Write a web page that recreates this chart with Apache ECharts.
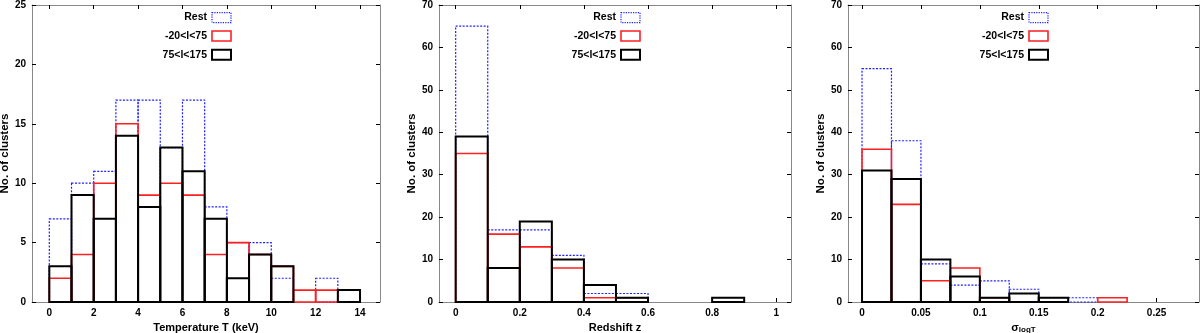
<!DOCTYPE html>
<html>
<head>
<meta charset="utf-8">
<title>cluster histograms</title>
<script src="https://cdn.jsdelivr.net/npm/echarts@6/dist/echarts.min.js"></script>
<style>body{margin:0;background:#fff;}</style>
</head>
<body>
<div id="main" style="width:1200px;height:333px;"></div>
<script>
// bin lower edges and counts
var tempBins = [0, 1, 2, 3, 4, 5, 6, 7, 8, 9, 10, 11, 12, 13];
var tempRest = [7, 10, 11, 17, 17, 13, 17, 8, 5, 5, 2, 0, 2, 0];
var tempInner = [2, 4, 10, 15, 9, 10, 9, 4, 5, 4, 3, 1, 1, 0];
var tempOuter = [3, 9, 7, 14, 8, 13, 11, 7, 2, 4, 3, 0, 0, 1];

var zBins = [0, 0.1, 0.2, 0.3, 0.4, 0.5, 0.6, 0.7, 0.8, 0.9];
var zRest = [65, 17, 17, 11, 2, 2, 0, 0, 0, 0];
var zInner = [35, 16, 13, 8, 1, 1, 0, 0, 0, 0];
var zOuter = [39, 8, 19, 10, 4, 1, 0, 0, 1, 0];

var sBins = [0, 0.025, 0.05, 0.075, 0.1, 0.125, 0.15, 0.175, 0.2];
var sRest = [55, 38, 9, 4, 5, 3, 1, 1, 0];
var sInner = [36, 23, 5, 8, 1, 0, 0, 0, 1];
var sOuter = [31, 29, 10, 6, 1, 2, 1, 0, 0];

var tempTicks = [0, 2, 4, 6, 8, 10, 12, 14];
var zTicks = [0, 0.2, 0.4, 0.6, 0.8, 1];
var sTicks = [0, 0.05, 0.1, 0.15, 0.2, 0.25];

var names = ['Rest', '-20<l<75', '75<l<175'];

var styles = {
    'Rest': {stroke: '#2020ff', lineWidth: 1.2, lineDash: [2, 1.5]},
    '-20<l<75': {stroke: '#ff2020', lineWidth: 1.6, lineDash: null},
    '75<l<175': {stroke: '#000', lineWidth: 2, lineDash: null}
};

var font = 'Liberation Sans';
var frame = '#888';

function toBoxes(bins, counts, width) {
    var res = [];
    for (var i = 0; i < bins.length; i++) {
        if (counts[i] > 0) res.push([bins[i], bins[i] + width, counts[i]]);
    }
    return res;
}

function boxSeries(name, idx, data) {
    var st = styles[name];
    return {
        name: name,
        type: 'custom',
        xAxisIndex: idx * 2,
        yAxisIndex: idx * 2,
        data: data,
        encode: {x: [0, 1], y: 2},
        itemStyle: {color: st.stroke},
        renderItem: function (params, api) {
            var lo = api.coord([api.value(0), 0]);
            var hi = api.coord([api.value(1), api.value(2)]);
            return {
                type: 'rect',
                shape: {x: lo[0], y: hi[1], width: hi[0] - lo[0], height: lo[1] - hi[1]},
                style: {fill: 'none', stroke: st.stroke, lineWidth: st.lineWidth, lineDash: st.lineDash}
            };
        }
    };
}

var grids = [
    {left: 32, top: 5, width: 348, bottom: 31, outerBoundsMode: 'none'},
    {left: 439, top: 5, width: 352, bottom: 31, outerBoundsMode: 'none'},
    {left: 848, top: 5, width: 351, bottom: 31, outerBoundsMode: 'none'}
];

var xr = [[-0.78, 14.9, tempTicks], [-0.052, 1.046, zTicks], [-0.0119, 0.286, sTicks]];
var yMax = [25, 70, 70];
var yStep = [5, 10, 10];
var xNames = ['Temperature T (keV)', 'Redshift z', '{s|σ}{b|logT}'];
var xNameGap = [13, 13, 11];

var xAxes = [], yAxes = [];
for (var g = 0; g < 3; g++) {
    var ticks = xr[g][2];
    xAxes.push({
        type: 'value', gridIndex: g, min: xr[g][0], max: xr[g][1], position: 'bottom',
        name: xNames[g], nameLocation: 'middle', nameGap: xNameGap[g],
        nameTextStyle: {fontFamily: font, fontWeight: 'bold', fontSize: 11, color: '#000',
            rich: {s: {fontFamily: font, fontSize: 11, color: '#000'},
                   b: {fontFamily: font, fontSize: 8, fontWeight: 'bold', color: '#000', padding: [3, 0, 0, 0]}}},
        splitLine: {show: false},
        axisLine: {show: true, onZero: false, lineStyle: {color: frame}},
        axisTick: {show: true, inside: true, length: 4, customValues: ticks, lineStyle: {color: '#000'}},
        axisLabel: {customValues: ticks, fontFamily: font, fontWeight: 'bold', fontSize: 10, color: '#000', margin: 6,
            formatter: function (v) { return String(+v.toFixed(3)); }}
    });
    xAxes.push({
        type: 'value', gridIndex: g, min: xr[g][0], max: xr[g][1], position: 'top',
        splitLine: {show: false},
        axisLine: {show: true, onZero: false, lineStyle: {color: frame}},
        axisTick: {show: true, inside: true, length: 4, customValues: ticks, lineStyle: {color: '#000'}},
        axisLabel: {show: false}
    });
    yAxes.push({
        type: 'value', gridIndex: g, min: 0, max: yMax[g], interval: yStep[g], position: 'left',
        name: 'No. of clusters', nameLocation: 'middle', nameGap: 20,
        nameTextStyle: {fontFamily: font, fontWeight: 'bold', fontSize: 11.5, color: '#000'},
        splitLine: {show: false},
        axisLine: {show: true, onZero: false, lineStyle: {color: frame}},
        axisTick: {show: true, inside: true, length: 4, lineStyle: {color: '#000'}},
        axisLabel: {fontFamily: font, fontWeight: 'bold', fontSize: 10, color: '#000', margin: 6}
    });
    yAxes.push({
        type: 'value', gridIndex: g, min: 0, max: yMax[g], interval: yStep[g], position: 'right',
        splitLine: {show: false},
        axisLine: {show: true, onZero: false, lineStyle: {color: frame}},
        axisTick: {show: true, inside: true, length: 4, lineStyle: {color: '#000'}},
        axisLabel: {show: false}
    });
}

var series = [
    boxSeries('Rest', 0, toBoxes(tempBins, tempRest, 1)),
    boxSeries('-20<l<75', 0, toBoxes(tempBins, tempInner, 1)),
    boxSeries('75<l<175', 0, toBoxes(tempBins, tempOuter, 1)),
    boxSeries('Rest', 1, toBoxes(zBins, zRest, 0.1)),
    boxSeries('-20<l<75', 1, toBoxes(zBins, zInner, 0.1)),
    boxSeries('75<l<175', 1, toBoxes(zBins, zOuter, 0.1)),
    boxSeries('Rest', 2, toBoxes(sBins, sRest, 0.025)),
    boxSeries('-20<l<75', 2, toBoxes(sBins, sInner, 0.025)),
    boxSeries('75<l<175', 2, toBoxes(sBins, sOuter, 0.025))
];

function legendAt(right) {
    return {
        right: right, top: 12, orient: 'vertical', align: 'right', padding: 0,
        itemWidth: 19, itemHeight: 10, itemGap: 7, selectedMode: false,
        textStyle: {fontFamily: font, fontWeight: 'bold', fontSize: 10.5, color: '#000'},
        data: names.map(function (n) {
            return {name: n, icon: 'rect', itemStyle: {color: 'transparent', borderColor: styles[n].stroke,
                borderWidth: styles[n].lineWidth, borderType: styles[n].lineDash ? 'dotted' : 'solid'}};
        })
    };
}

var myChart = echarts.init(document.getElementById('main'));
myChart.setOption({
    animation: false,
    backgroundColor: '#fff',
    grid: grids,
    xAxis: xAxes,
    yAxis: yAxes,
    legend: [legendAt(968), legendAt(559), legendAt(151)],
    series: series
});
</script>
</body>
</html>
